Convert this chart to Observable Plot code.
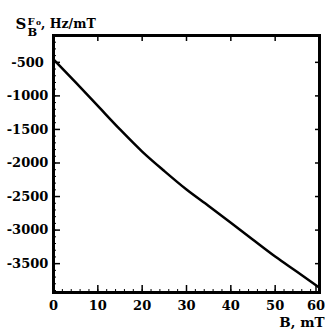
<!DOCTYPE html>
<html>
<head>
<meta charset="utf-8">
<script src="https://cdn.jsdelivr.net/npm/d3@7"></script>
<script src="https://cdn.jsdelivr.net/npm/@observablehq/plot@0.6"></script>
<style>
  html, body { margin: 0; padding: 0; background: #fff; }
  #wrap { position: relative; width: 325px; height: 331px; overflow: hidden; }
  #overlay { position: absolute; left: 0; top: 0; pointer-events: none; }
  #overlay text { font-family: "DejaVu Serif", serif; font-weight: bold; fill: #000; }
</style>
</head>
<body>
<div id="wrap">
  <div id="chart"></div>
  <svg id="overlay" width="325" height="331" xmlns="http://www.w3.org/2000/svg">
    <text x="15.5" y="29" font-size="15">S</text>
    <text x="27.5" y="24.5" font-size="10">F</text>
    <text x="36" y="25" font-size="7.5">o</text>
    <text x="27.5" y="36" font-size="11.5">B</text>
    <text x="41" y="28" font-size="12.5">, Hz/mT</text>
    <text x="324.5" y="327" font-size="13.5" text-anchor="end">B, mT</text>
  </svg>
</div>
<script>
// Data
const B = [0, 5, 10, 15, 20, 25, 30, 35, 40, 45, 50, 55, 60];
const S = [-455, -800, -1150, -1500, -1830, -2120, -2395, -2640, -2890, -3145, -3395, -3625, -3858];

// Tick labels
const xTicks = [0, 10, 20, 30, 40, 50, 60];
const yTicks = [-500, -1000, -1500, -2000, -2500, -3000, -3500];
const xMinor = d3.range(0, 61, 2);
const yMinor = d3.range(-3900, -99, 100);

const data = B.map((b, i) => ({B: b, S: S[i]}));

const chart = Plot.plot({
  width: 325,
  height: 331,
  marginLeft: 53,
  marginRight: 6,
  marginTop: 35,
  marginBottom: 39,
  style: {
    fontFamily: "DejaVu Serif, serif",
    fontWeight: "bold",
    fontSize: "13px",
    color: "#000",
    background: "#fff"
  },
  x: {domain: [0, 60]},
  y: {domain: [-3930, -100]},
  marks: [
    Plot.axisX(xMinor, {anchor: "bottom", tickSize: -3, tickFormat: () => "", label: null, strokeWidth: 1}),
    Plot.axisX(xTicks.slice(0, -1), {anchor: "bottom", tickSize: -7, tickPadding: 15, tickFormat: d => String(d), label: null, strokeWidth: 1.5}),
    Plot.axisX(xTicks.slice(-1), {anchor: "bottom", tickSize: -7, tickPadding: 15, dx: -3.5, tickFormat: d => String(d), label: null, strokeWidth: 1.5}),
    Plot.axisX(xTicks, {anchor: "top", tickSize: -5, tickFormat: () => "", label: null, strokeWidth: 1.5}),
    Plot.axisY(yMinor, {anchor: "left", tickSize: -3, tickFormat: () => "", label: null, strokeWidth: 1}),
    Plot.axisY(yTicks, {anchor: "left", tickSize: -7, tickPadding: 33, textAnchor: "middle", tickFormat: d => String(d), label: null, strokeWidth: 1.5}),
    Plot.axisY(yTicks, {anchor: "right", tickSize: -5, tickFormat: () => "", label: null, strokeWidth: 1.5}),
    Plot.line(data, {x: "B", y: "S", stroke: "#000", strokeWidth: 2.5, curve: "monotone-x"}),
    Plot.frame({stroke: "#000", strokeWidth: 3})
  ]
});
document.getElementById("chart").appendChild(chart);
</script>
</body>
</html>
